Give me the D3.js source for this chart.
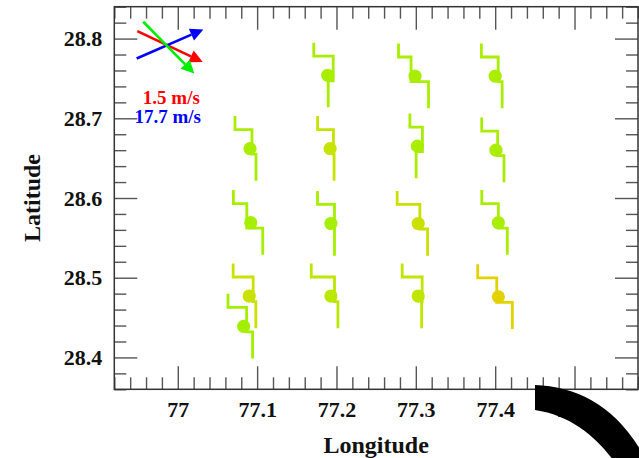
<!DOCTYPE html>
<html><head><meta charset="utf-8">
<script src="https://cdn.jsdelivr.net/npm/d3@7"></script>
<style>body{margin:0;background:#fff}svg{display:block}</style>
</head><body>
<svg id="c" width="639" height="458"></svg>
<script>
// ---- data ----
const xTickValues = [77, 77.1, 77.2, 77.3, 77.4, 77.5];
const yTickValues = [28.4, 28.5, 28.6, 28.7, 28.8];
const stationLon = [77.189, 77.299, 77.400, 77.091, 77.192, 77.302, 77.401, 77.092, 77.193, 77.303, 77.404, 77.090, 77.083, 77.193, 77.303, 77.404];
const stationLat = [28.754, 28.753, 28.753, 28.662, 28.662, 28.665, 28.660, 28.569, 28.568, 28.568, 28.569, 28.477, 28.439, 28.477, 28.477, 28.476];
// glyph shape: longitude offsets of the upper arm, middle staff and lower staff
const armOffset = [-0.0176, -0.0208, -0.0174, -0.0189, -0.0158, -0.0095, -0.0180, -0.0219, -0.0169, -0.0265, -0.0209, -0.0202, -0.0197, -0.0248, -0.0202, -0.0260];
const midOffset = [0.0069, -0.0050, 0.0038, 0.0025, 0.0042, 0.0063, 0.0021, -0.0050, 0.0045, 0.0021, 0.0000, 0.0050, 0.0038, 0.0045, 0.0050, -0.0020];
const lowOffset = [0.0006, 0.0170, 0.0088, 0.0076, 0.0050, -0.0016, 0.0101, 0.0151, 0.0045, 0.0118, 0.0113, 0.0084, 0.0113, 0.0088, 0.0043, 0.0176];
const stationValue = [0.1, 0.1, 0.1, 0.1, 0.5, 0.1, 0.1, 0.05, 0.05, 0.6, 0.1, 0.55, 0.0, 0.35, 0.4, 0.95];
// latitude offsets of the glyph levels: top, upper bend, lower bend, bottom
const glyphLevels = [0.0409, 0.0239, -0.0069, -0.0403];

const arrowColors = ["#ff0000", "#0000ff", "#00ee00"];
const arrowLon0 = [76.949, 76.9482, 76.9565];
const arrowLat0 = [28.8094, 28.775, 28.8211];
const arrowLon1 = [77.0314, 77.0322, 77.0208];
const arrowLat1 = [28.7707, 28.8115, 28.7561];
const legendLabels = ["1.5 m/s", "17.7 m/s"];
const legendLabelColors = ["#ff0000", "#0000ff"];
const legendLabelLon = [76.9919, 76.9873];
const legendLabelLat = [28.7176, 28.6936];

(function () {
// ---- layout ----
const svg = d3.select("#c");
const mLeft = 114.3, mRight = 638, mTop = 6.7, mBottom = 389.3;
const x = d3.scaleLinear().domain([76.92, 77.58]).range([mLeft, mRight]);
const y = d3.scaleLinear().domain([28.36, 28.84]).range([mBottom, mTop]);
const color = d3.scaleLinear().domain([0, 0.5, 1]).range(["#a2f000", "#c6e400", "#e6d000"]);
const font = "'Liberation Serif','Times New Roman',serif";

const minorX = d3.range(0, 34).map(i => +(76.92 + i * 0.02).toFixed(2)).filter(v => !xTickValues.some(t => Math.abs(t - v) < 1e-6));
const minorY = d3.range(0, 25).map(i => +(28.36 + i * 0.02).toFixed(2)).filter(v => !yTickValues.some(t => Math.abs(t - v) < 1e-6));

function styleAxis(g, labels) {
  g.select(".domain").remove();
  g.selectAll("line").attr("stroke", "#555").attr("stroke-width", 1.4);
  g.selectAll("text").attr("font-family", font).attr("font-weight", "bold").attr("font-size", 22).attr("fill", "#111");
  if (!labels) g.selectAll("text").remove();
}
const fmt = d => String(+d);
svg.append("g").attr("transform", `translate(0,${mBottom})`).call(d3.axisBottom(x).tickValues(minorX).tickSize(-12)).call(g => styleAxis(g, false));
svg.append("g").attr("transform", `translate(0,${mBottom})`).call(d3.axisBottom(x).tickValues(xTickValues).tickSize(-23).tickPadding(12).tickFormat(fmt)).call(g => styleAxis(g, true));
svg.append("g").attr("transform", `translate(0,${mTop})`).call(d3.axisTop(x).tickValues(minorX).tickSize(-12)).call(g => styleAxis(g, false));
svg.append("g").attr("transform", `translate(0,${mTop})`).call(d3.axisTop(x).tickValues(xTickValues).tickSize(-23)).call(g => styleAxis(g, false));
svg.append("g").attr("transform", `translate(${mLeft},0)`).call(d3.axisLeft(y).tickValues(minorY).tickSize(-12)).call(g => styleAxis(g, false));
svg.append("g").attr("transform", `translate(${mLeft},0)`).call(d3.axisLeft(y).tickValues(yTickValues).tickSize(-23).tickPadding(12).tickFormat(fmt)).call(g => styleAxis(g, true));
svg.append("g").attr("transform", `translate(${mRight},0)`).call(d3.axisRight(y).tickValues(minorY).tickSize(-12)).call(g => styleAxis(g, false));
svg.append("g").attr("transform", `translate(${mRight},0)`).call(d3.axisRight(y).tickValues(yTickValues).tickSize(-23)).call(g => styleAxis(g, false));

svg.append("rect").attr("x", mLeft).attr("y", mTop).attr("width", mRight - mLeft).attr("height", mBottom - mTop)
  .attr("fill", "none").attr("stroke", "#333").attr("stroke-width", 1.5);

svg.append("text").attr("x", (mLeft + mRight) / 2).attr("y", 453).attr("text-anchor", "middle")
  .attr("font-family", font).attr("font-weight", "bold").attr("font-size", 24).attr("fill", "#111").text("Longitude");
svg.append("text").attr("transform", `translate(40,${(mTop + mBottom) / 2}) rotate(-90)`).attr("text-anchor", "middle")
  .attr("font-family", font).attr("font-weight", "bold").attr("font-size", 24).attr("fill", "#111").text("Latitude");

// ---- station glyphs ----
const stations = stationLon.map((lon, i) => ({lon, lat: stationLat[i], a: armOffset[i], b: midOffset[i], c: lowOffset[i], v: stationValue[i]}));
const line = d3.line().x(d => x(d[0])).y(d => y(d[1]));
const sg = svg.append("g");
stations.forEach(s => {
  const pts = [
    [s.lon + s.a, s.lat + glyphLevels[0]],
    [s.lon + s.a, s.lat + glyphLevels[1]],
    [s.lon + s.b, s.lat + glyphLevels[1]],
    [s.lon + s.b, s.lat + glyphLevels[2]],
    [s.lon + s.c, s.lat + glyphLevels[2]],
    [s.lon + s.c, s.lat + glyphLevels[3]]
  ];
  sg.append("path").attr("d", line(pts)).attr("fill", "none").attr("stroke", color(s.v)).attr("stroke-width", 2.8).attr("stroke-linejoin", "miter");
  sg.append("circle").attr("cx", x(s.lon)).attr("cy", y(s.lat)).attr("r", 6.6).attr("fill", color(s.v));
});

// ---- legend arrows ----
arrowColors.forEach((col, i) => {
  const x0 = x(arrowLon0[i]), y0 = y(arrowLat0[i]), x1 = x(arrowLon1[i]), y1 = y(arrowLat1[i]);
  const ang = Math.atan2(y1 - y0, x1 - x0), hl = 13, hw = 6.5;
  const bx = x1 - hl * Math.cos(ang), by = y1 - hl * Math.sin(ang);
  svg.append("line").attr("x1", x0).attr("y1", y0).attr("x2", bx).attr("y2", by).attr("stroke", col).attr("stroke-width", 2.6);
  const p = [[x1, y1], [bx + hw * Math.sin(ang), by - hw * Math.cos(ang)], [bx - hw * Math.sin(ang), by + hw * Math.cos(ang)]];
  svg.append("path").attr("d", "M" + p.map(q => q.join(",")).join("L") + "Z").attr("fill", col);
});
legendLabels.forEach((t, i) => {
  svg.append("text").attr("x", x(legendLabelLon[i])).attr("y", y(legendLabelLat[i])).attr("text-anchor", "middle")
    .attr("font-family", font).attr("font-weight", "bold").attr("font-size", 19).attr("fill", legendLabelColors[i]).text(t);
});

// ---- black arc overlay ----
svg.append("path").attr("d", "M535,385 C580,387 622,408 650,468 L620,470 C602,442 575,416 535,410 Z").attr("fill", "#000");
})();
</script>
</body></html>
